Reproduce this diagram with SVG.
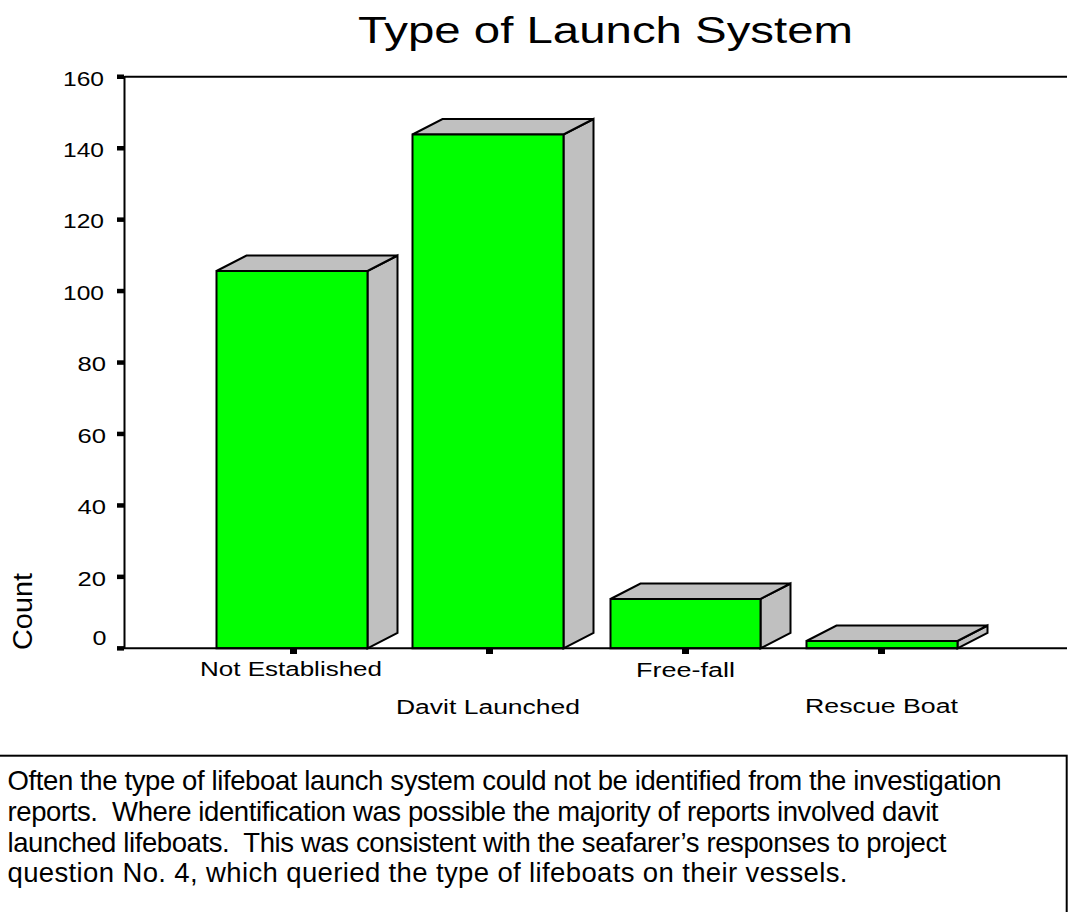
<svg xmlns="http://www.w3.org/2000/svg" width="1076" height="912" viewBox="0 0 1076 912">
<style>
text{font-family:"Liberation Sans",Arial,sans-serif;fill:#000}
.lab{font-size:19.5px}
.ax{stroke:#000;stroke-width:2;fill:none}
.front{fill:#00FF00;stroke:#000;stroke-width:2;stroke-linejoin:miter}
.side{fill:#C0C0C0;stroke:#000;stroke-width:2;stroke-linejoin:miter}
.tick{fill:#000}
.body{font-size:27.5px}
</style>
<rect width="1076" height="912" fill="#fff"/>
<text x="358" y="43" font-size="37" textLength="495" lengthAdjust="spacingAndGlyphs">Type of Launch System</text>
<g id="axes">
<line class="ax" x1="124.5" y1="76.7" x2="1067" y2="76.7"/>
<line class="ax" x1="124.5" y1="76" x2="124.5" y2="649"/>
<g class="tick">
<rect x="117" y="74.5" width="7" height="4.5"/>
<rect x="117" y="146" width="7" height="4.5"/>
<rect x="117" y="217.4" width="7" height="4.5"/>
<rect x="117" y="288.8" width="7" height="4.5"/>
<rect x="117" y="360.3" width="7" height="4.5"/>
<rect x="117" y="431.7" width="7" height="4.5"/>
<rect x="117" y="503.2" width="7" height="4.5"/>
<rect x="117" y="574.6" width="7" height="4.5"/>
<rect x="117" y="646.1" width="7" height="4.5"/>
</g>
<g class="lab">
<text x="63" y="85.5" textLength="41" lengthAdjust="spacingAndGlyphs">160</text>
<text x="63" y="157" textLength="41" lengthAdjust="spacingAndGlyphs">140</text>
<text x="63" y="228.4" textLength="41" lengthAdjust="spacingAndGlyphs">120</text>
<text x="63" y="299.8" textLength="41" lengthAdjust="spacingAndGlyphs">100</text>
<text x="77.5" y="371.3" textLength="28.5" lengthAdjust="spacingAndGlyphs">80</text>
<text x="77.5" y="442.7" textLength="28.5" lengthAdjust="spacingAndGlyphs">60</text>
<text x="77.5" y="514.2" textLength="28.5" lengthAdjust="spacingAndGlyphs">40</text>
<text x="77.5" y="585.6" textLength="28.5" lengthAdjust="spacingAndGlyphs">20</text>
<text x="92.5" y="645" textLength="14" lengthAdjust="spacingAndGlyphs">0</text>
</g>
<text transform="translate(32,650) rotate(-90)" x="0" y="0" font-size="27" textLength="77" lengthAdjust="spacingAndGlyphs">Count</text>
</g>
<g id="bar-not-established">
<polygon class="side" points="367.5,271 397.5,255.5 397.5,632.8 367.5,648.3"/>
<polygon class="side" points="216.5,271 246.5,255.5 397.5,255.5 367.5,271"/>
<rect class="front" x="216.5" y="271" width="151" height="377.3"/>
</g>
<g id="bar-davit-launched">
<polygon class="side" points="563.5,134.5 593.5,119 593.5,632.8 563.5,648.3"/>
<polygon class="side" points="412.5,134.5 442.5,119 593.5,119 563.5,134.5"/>
<rect class="front" x="412.5" y="134.5" width="151" height="513.8"/>
</g>
<g id="bar-free-fall">
<polygon class="side" points="760.5,599 790.5,583.5 790.5,632.8 760.5,648.3"/>
<polygon class="side" points="610.5,599 640.5,583.5 790.5,583.5 760.5,599"/>
<rect class="front" x="610.5" y="599" width="150" height="49.3"/>
</g>
<g id="bar-rescue-boat">
<polygon class="side" points="957.5,641 987.5,625.5 987.5,632.8 957.5,648.3"/>
<polygon class="side" points="806.5,641 836.5,625.5 987.5,625.5 957.5,641"/>
<rect class="front" x="806.5" y="641" width="151" height="7.3"/>
</g>
<g id="x-axis">
<line class="ax" x1="117" y1="648.3" x2="1067" y2="648.3"/>
<g class="tick">
<rect x="290" y="648" width="7" height="6"/>
<rect x="486" y="648" width="7" height="6"/>
<rect x="682" y="648" width="7" height="6"/>
<rect x="878" y="648" width="7" height="6"/>
</g>
<g class="lab">
<text x="200" y="676" textLength="182" lengthAdjust="spacingAndGlyphs">Not Established</text>
<text x="396" y="714" textLength="184" lengthAdjust="spacingAndGlyphs">Davit Launched</text>
<text x="636" y="677" textLength="99" lengthAdjust="spacingAndGlyphs">Free-fall</text>
<text x="805" y="713" textLength="153" lengthAdjust="spacingAndGlyphs">Rescue Boat</text>
</g>
</g>
<g id="note">
<rect x="-5" y="755.7" width="1071.7" height="180" fill="none" stroke="#000" stroke-width="2"/>
<text class="body" xml:space="preserve" x="7.5" y="790" textLength="994" lengthAdjust="spacing">Often the type of lifeboat launch system could not be identified from the investigation</text>
<text class="body" xml:space="preserve" x="7.5" y="820.8" textLength="931" lengthAdjust="spacing">reports.  Where identification was possible the majority of reports involved davit</text>
<text class="body" xml:space="preserve" x="7.5" y="851.6" textLength="939" lengthAdjust="spacing">launched lifeboats.  This was consistent with the seafarer’s responses to project</text>
<text class="body" xml:space="preserve" x="7.5" y="882.4" textLength="840" lengthAdjust="spacing">question No. 4, which queried the type of lifeboats on their vessels.</text>
</g>
</svg>
